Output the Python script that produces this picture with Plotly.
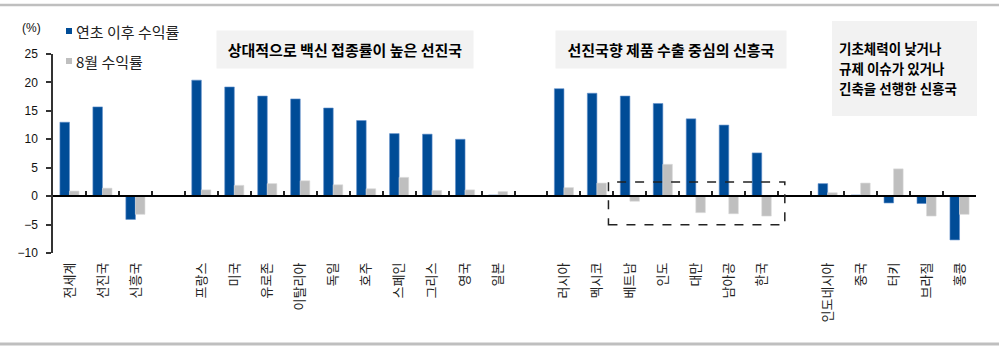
import plotly.graph_objects as go

# Categories in display order; empty strings are spacer slots between groups
categories = ["전세계", "선진국", "신흥국", "",
              "프랑스", "미국", "유로존", "이탈리아", "독일", "호주", "스페인", "그리스", "영국", "일본", "",
              "러시아", "멕시코", "베트남", "인도", "대만", "남아공", "한국", "",
              "인도네시아", "중국", "터키", "브라질", "홍콩"]

# Year-to-date return (%)
ytd_return = [13.0, 15.7, -4.1, None,
              20.4, 19.2, 17.6, 17.1, 15.5, 13.3, 11.0, 10.9, 10.0, 0.2, None,
              18.9, 18.1, 17.6, 16.3, 13.6, 12.5, 7.6, None,
              2.2, 0.2, -1.2, -1.3, -7.7]

# August return (%)
aug_return = [0.9, 1.4, -3.2, None,
              1.1, 1.9, 2.2, 2.7, 2.0, 1.3, 3.3, 1.0, 1.1, 0.8, None,
              1.5, 2.3, -0.9, 5.6, -2.9, -3.1, -3.5, None,
              0.6, 2.3, 4.8, -3.5, -3.2]

series_names = ["연초 이후 수익률", "8월 수익률"]
y_ticks = [25, 20, 15, 10, 5, 0, -5, -10]

box_titles = ["상대적으로 백신 접종률이 높은 선진국", "선진국향 제품 수출 중심의 신흥국"]
box_lines = ["기초체력이 낮거나", "규제 이슈가 있거나", "긴축을 선행한 신흥국"]

BLUE = "#004C97"
GREY = "#BFBFBF"
KR = "'Noto Sans CJK KR', sans-serif"
FONT = "Arial, " + KR

x_pos = list(range(len(categories)))
label_pos = [i for i, c in enumerate(categories) if c]
label_txt = [c for c in categories if c]
boundaries = [i + 0.5 for i in range(len(categories))]

W, H = 999, 350
L, R, T, B = 53, 23, 54, 97
pw, ph = W - L - R, H - T - B


def px(x):
    return (x - L) / pw


def py(y):
    return (H - B - y) / ph


fig = go.Figure()
fig.add_bar(x=x_pos, y=ytd_return, name=series_names[0], marker_color=BLUE,
            marker_line=dict(color="#5F8FCB", width=0.6), showlegend=False)
fig.add_bar(x=x_pos, y=aug_return, name=series_names[1], marker_color=GREY,
            marker_line=dict(color="#DADADA", width=0.6), showlegend=False)
# helper trace so the zero-line axis with category boundary ticks is drawn
fig.add_scatter(x=[-0.5, len(categories) - 0.5], y=[0, 0], xaxis="x2", mode="lines",
                line=dict(width=0), hoverinfo="skip", showlegend=False)

fig.update_layout(
    width=W, height=H,
    margin=dict(l=L, r=R, t=T, b=B),
    paper_bgcolor="white", plot_bgcolor="white",
    font=dict(family=FONT, size=12, color="#111"),
    barmode="group", bargap=0.42, bargroupgap=0,
    xaxis=dict(range=[-0.5, len(categories) - 0.5], tickmode="array",
               tickvals=label_pos, ticktext=label_txt, tickangle=-90,
               ticks="", showline=False, showgrid=False, zeroline=False,
               tickfont=dict(size=13, family=KR, color="#222"),
               ticklabelstandoff=6),
    xaxis2=dict(overlaying="x", anchor="free", position=10 / 35,
                range=[-0.5, len(categories) - 0.5], tickmode="array",
                tickvals=boundaries, ticks="inside", ticklen=4, tickwidth=1.5,
                tickcolor="#222", showline=True, linecolor="#000", linewidth=1.5,
                showticklabels=False, showgrid=False, zeroline=False),
    yaxis=dict(range=[-10, 25], tickmode="array", tickvals=y_ticks,
               showline=True, linecolor="#333", linewidth=1.5,
               ticks="outside", ticklen=5, tickwidth=1.5, tickcolor="#333",
               showgrid=False, zeroline=False, ticklabelstandoff=6,
               tickfont=dict(size=12, family="Arial, sans-serif", color="#111")),
)

shapes = []
# top and bottom rules
shapes.append(dict(type="line", xref="paper", yref="paper", x0=px(0), x1=px(W),
                   y0=py(5), y1=py(5), line=dict(color="#BFBFBF", width=2.5)))
shapes.append(dict(type="line", xref="paper", yref="paper", x0=px(0), x1=px(W),
                   y0=py(344), y1=py(344), line=dict(color="#BFBFBF", width=3)))
# legend swatches
shapes.append(dict(type="rect", xref="paper", yref="paper", x0=px(66), x1=px(72),
                   y0=py(34), y1=py(28), fillcolor=BLUE, line=dict(width=0)))
shapes.append(dict(type="rect", xref="paper", yref="paper", x0=px(66), x1=px(72),
                   y0=py(64), y1=py(58), fillcolor=GREY, line=dict(width=0)))
# shaded panel behind the three-line note
shapes.append(dict(type="rect", xref="paper", yref="paper", x0=px(832), x1=px(977),
                   y0=py(116), y1=py(21), fillcolor="#F2F2F2", line=dict(width=0),
                   layer="below"))
# dashed highlight around the export-driven group
shapes.append(dict(type="rect", xref="x", yref="y", x0=16.35, x1=21.7, y0=-5.05, y1=2.5,
                   line=dict(color="#222", width=1.5, dash="dash"), fillcolor="rgba(0,0,0,0)"))
fig.update_layout(shapes=shapes)

ann = []
leg_font = dict(size=15, family=KR, color="#222")
ann.append(dict(text=series_names[0], xref="paper", yref="paper", x=px(74), y=py(31),
                xanchor="left", yanchor="middle", showarrow=False, font=leg_font))
ann.append(dict(text=series_names[1], xref="paper", yref="paper", x=px(74), y=py(61),
                xanchor="left", yanchor="middle", showarrow=False, font=leg_font))
ann.append(dict(text="(%)", xref="paper", yref="paper", x=px(31), y=py(28),
                xanchor="center", yanchor="middle", showarrow=False,
                font=dict(size=12, family="Arial, sans-serif", color="#111")))

box_font = dict(size=15, family=KR, color="#000", weight="bold")
ann.append(dict(text=box_titles[0], xref="paper", yref="paper",
                x=px(345), y=py(49.5), xanchor="center", yanchor="middle", showarrow=False,
                width=256, height=37, bgcolor="#F2F2F2", borderpad=0, font=box_font))
ann.append(dict(text=box_titles[1], xref="paper", yref="paper",
                x=px(671), y=py(49.5), xanchor="center", yanchor="middle", showarrow=False,
                width=230, height=37, bgcolor="#F2F2F2", borderpad=0, font=box_font))
note_font = dict(size=13.5, family=KR, color="#000", weight="bold")
for line_text, line_y in zip(box_lines, [48, 68, 88]):
    ann.append(dict(text=line_text, xref="paper", yref="paper", x=px(838), y=py(line_y),
                    xanchor="left", yanchor="middle", showarrow=False, borderpad=0,
                    font=note_font))
fig.update_layout(annotations=ann)

fig.write_html("out.html")
